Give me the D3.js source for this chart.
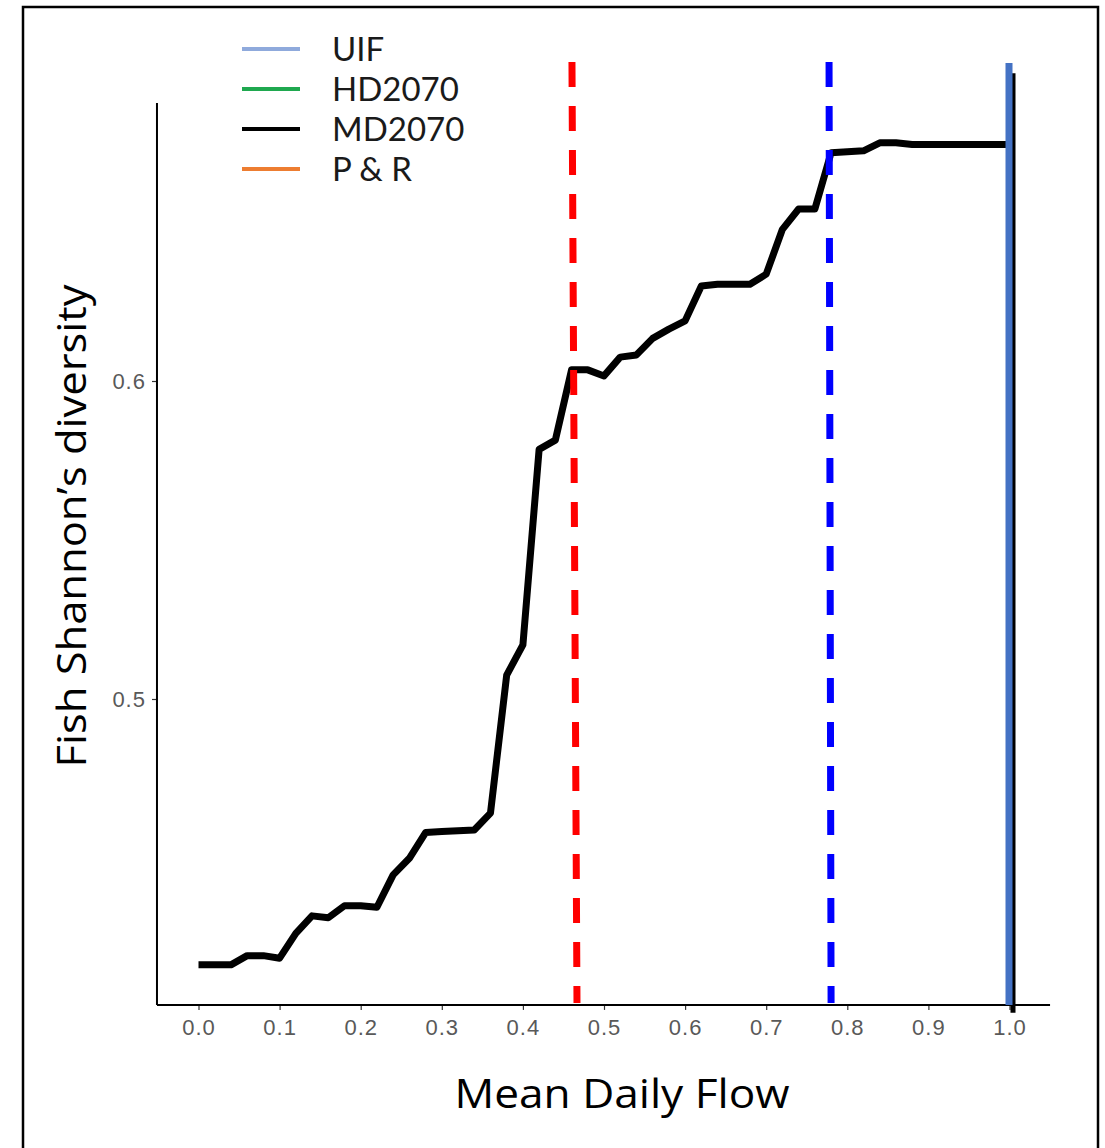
<!DOCTYPE html>
<html><head><meta charset="utf-8">
<script src="https://cdn.jsdelivr.net/npm/d3@7"></script>
<style>body{margin:0;background:#fff;} svg{display:block;}</style>
</head><body>
<svg id="chart" width="1105" height="1148"></svg>
<script>
// ---- data ----
const flowX = [0.00,0.02,0.04,0.06,0.08,0.10,0.12,0.14,0.16,0.18,0.20,0.22,0.24,0.26,0.28,0.30,0.32,0.34,0.36,0.38,0.40,0.42,0.44,0.46,0.48,0.50,0.52,0.54,0.56,0.58,0.60,0.62,0.64,0.66,0.68,0.70,0.72,0.74,0.76,0.78,0.80,0.82,0.84,0.86,0.88,0.90,0.92,0.94,0.96,0.98,1.00];
const md2070 = [0.4164,0.4164,0.4164,0.4193,0.4193,0.4185,0.4263,0.4318,0.4312,0.4350,0.4350,0.4345,0.4447,0.4499,0.4580,0.4583,0.4586,0.4588,0.4641,0.5075,0.5170,0.5785,0.5814,0.6035,0.6035,0.6016,0.6075,0.6082,0.6134,0.6163,0.6189,0.6299,0.6304,0.6304,0.6304,0.6336,0.6477,0.6541,0.6541,0.6718,0.6721,0.6724,0.6749,0.6749,0.6744,0.6744,0.6744,0.6744,0.6744,0.6744,0.6744];
const xTicks = [0,0.1,0.2,0.3,0.4,0.5,0.6,0.7,0.8,0.9,1.0];
const yTicks = [0.5,0.6];
const legendNames = ["UIF","HD2070","MD2070","P & R"];
const legendColors = ["#8FAADC","#1FA84F","#000000","#ED7D31"];
const thresholdTop = [0.4605, 0.7775];
const thresholdBottom = [0.4667, 0.7800];
const thresholdColors = ["#FF0000","#0000FF"];
const xTitle = "Mean Daily Flow";
const yTitle = "Fish Shannon\u2019s diversity";

// ---- layout ----
const svg = d3.select("#chart");
const x = d3.scaleLinear().domain([0,1]).range([198.5,1009.5]);
const y = d3.scaleLinear().domain([0.5,0.6]).range([699,381]);
const xExt = [-0.0512, 1.05];
const yExt = [0.4038, 0.6874];

// outer frame
svg.append("rect").attr("x",23).attr("y",7).attr("width",1075).attr("height",1170)
  .attr("fill","none").attr("stroke","#000").attr("stroke-width",2.5);

// axes
const gx = svg.append("g").attr("transform",`translate(0,${y(yExt[0])})`)
  .call(d3.axisBottom(x).tickValues(xTicks).tickFormat(d3.format(".1f")).tickSize(5).tickPadding(9));
gx.select(".domain").remove();
gx.selectAll(".tick line").attr("stroke","#333").attr("stroke-width",1.2);
gx.selectAll(".tick text").attr("fill","#595959").attr("font-family","Liberation Sans, Arial, sans-serif")
  .attr("font-size",22).attr("letter-spacing",1);

const gy = svg.append("g").attr("transform",`translate(${x(xExt[0])},0)`)
  .call(d3.axisLeft(y).tickValues(yTicks).tickFormat(d3.format(".1f")).tickSize(5).tickPadding(6));
gy.select(".domain").remove();
gy.selectAll(".tick line").attr("stroke","#333").attr("stroke-width",1.2);
gy.selectAll(".tick text").attr("fill","#595959").attr("font-family","Liberation Sans, Arial, sans-serif")
  .attr("font-size",22).attr("letter-spacing",1);

svg.append("line").attr("x1",x(xExt[0])).attr("x2",x(xExt[1])).attr("y1",y(yExt[0])).attr("y2",y(yExt[0]))
  .attr("stroke","#000").attr("stroke-width",2);
svg.append("line").attr("x1",x(xExt[0])).attr("x2",x(xExt[0])).attr("y1",y(yExt[0])).attr("y2",y(yExt[1]))
  .attr("stroke","#000").attr("stroke-width",2);

// MD2070 curve
const line = d3.line().x((d,i)=>x(flowX[i])).y(d=>y(d));
svg.append("path").datum(md2070)
  .attr("d", line).attr("fill","none").attr("stroke","#000").attr("stroke-width",7)
  .attr("stroke-linejoin","round");

// threshold dashed lines
thresholdTop.forEach((t,i)=>{
  svg.append("line").attr("x1",x(t)).attr("x2",x(thresholdBottom[i]))
    .attr("y1",y(0.7003)).attr("y2",y(0.4044))
    .attr("stroke",thresholdColors[i]).attr("stroke-width",7).attr("stroke-dasharray","25,19");
});

// vertical lines at flow 1.0 (MD2070 black behind, UIF blue)
svg.append("line").attr("x1",x(1.0)+3.5).attr("x2",x(1.0)+3.5).attr("y1",y(0.6968)).attr("y2",y(0.4013))
  .attr("stroke","#000").attr("stroke-width",5);
svg.append("line").attr("x1",x(1.0)-0.5).attr("x2",x(1.0)-0.5).attr("y1",y(0.7000)).attr("y2",y(0.4038))
  .attr("stroke","#4472C4").attr("stroke-width",7);

// legend
const lg = svg.append("g");
legendNames.forEach((n,i)=>{
  const yy = 49 + i*40;
  lg.append("line").attr("x1",242).attr("x2",300).attr("y1",yy).attr("y2",yy)
    .attr("stroke",legendColors[i]).attr("stroke-width",4);
  lg.append("text").attr("x",332).attr("y",yy).attr("dy","0.36em")
    .attr("font-family","Lato, 'DejaVu Sans', sans-serif").attr("font-size",33).attr("fill","#1a1a1a").text(n);
});

// titles
svg.append("text").attr("x",622).attr("y",1108).attr("text-anchor","middle")
  .attr("font-family","'Open Sans', 'Noto Sans', sans-serif").attr("font-size",40).attr("fill","#000")
  .attr("textLength",335).attr("lengthAdjust","spacingAndGlyphs").text(xTitle);
svg.append("text").attr("transform","translate(86,526) rotate(-90)").attr("text-anchor","middle")
  .attr("font-family","'Open Sans', 'Noto Sans', sans-serif").attr("font-size",40).attr("fill","#000")
  .attr("textLength",483).attr("lengthAdjust","spacingAndGlyphs").text(yTitle);
</script>
</body></html>
